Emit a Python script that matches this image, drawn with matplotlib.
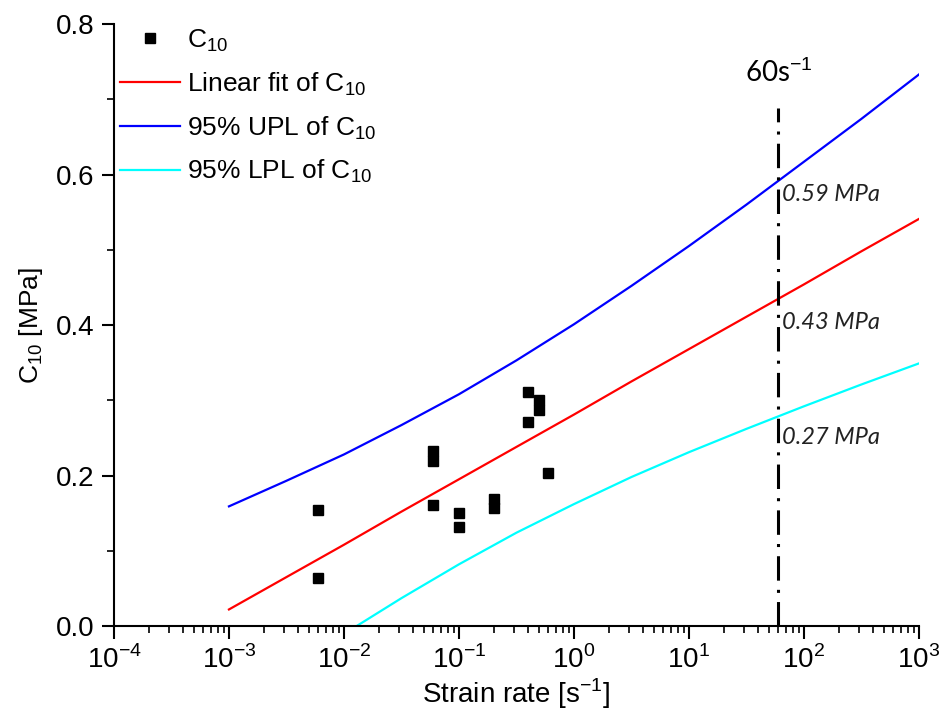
import matplotlib
matplotlib.use("Agg")
import matplotlib.pyplot as plt
from matplotlib.ticker import LogLocator, MultipleLocator, NullFormatter, FormatStrFormatter

# data points
rate = [0.006, 0.006, 0.06, 0.06, 0.06, 0.1, 0.1, 0.2, 0.2, 0.4, 0.4, 0.5, 0.5, 0.6]
c10 = [0.154, 0.064, 0.233, 0.219, 0.161, 0.150, 0.132, 0.169, 0.157, 0.311, 0.271, 0.300, 0.287, 0.203]

# curves read at half-decade steps
curve_x = [1e-3, 3.16e-3, 1e-2, 3.16e-2, 1e-1, 3.16e-1, 1e0, 3.16e0, 1e1, 3.16e1, 1e2, 3.16e2, 1e3]
fit_y = [0.022, 0.065, 0.108, 0.152, 0.195, 0.238, 0.281, 0.325, 0.368, 0.411, 0.454, 0.498, 0.541]
upl_y = [0.159, 0.193, 0.228, 0.267, 0.308, 0.353, 0.401, 0.452, 0.505, 0.560, 0.617, 0.674, 0.733]
lpl_x = [1.29e-2, 3.16e-2, 1e-1, 3.16e-1, 1e0, 3.16e0, 1e1, 3.16e1, 1e2, 3.16e2, 1e3]
lpl_y = [0.000, 0.037, 0.082, 0.124, 0.162, 0.198, 0.231, 0.262, 0.292, 0.321, 0.349]

x_ticks = [1e-4, 1e-3, 1e-2, 1e-1, 1e0, 1e1, 1e2, 1e3]
x_tick_labels = [r'10$^{-4}$', r'10$^{-3}$', r'10$^{-2}$', r'10$^{-1}$',
                 r'10$^{0}$', r'10$^{1}$', r'10$^{2}$', r'10$^{3}$']

marker_rate = 60
marker_labels = ["0.59 MPa", "0.43 MPa", "0.27 MPa"]
marker_label_y = [0.573, 0.404, 0.251]

plt.rcParams['font.family'] = ['Liberation Sans', 'DejaVu Sans']
plt.rcParams['mathtext.fontset'] = 'custom'
plt.rcParams['mathtext.rm'] = 'Liberation Sans'
plt.rcParams['mathtext.sf'] = 'Liberation Sans'
plt.rcParams['axes.unicode_minus'] = False

fig = plt.figure(figsize=(9.41, 7.17), dpi=100)
ax = fig.add_axes([0.1211, 0.1269, 0.8555, 0.8396])

ax.plot(rate, c10, 's', color='black', markersize=7.5, label=r'C$_{10}$', zorder=5)
ax.plot(curve_x, fit_y, color='#ff0000', lw=1.6, label=r'Linear fit of C$_{10}$')
ax.plot(curve_x, upl_y, color='#0000ff', lw=1.6, label=r'95% UPL of C$_{10}$')
ax.plot(lpl_x, lpl_y, color='#00ffff', lw=1.6, label=r'95% LPL of C$_{10}$')

ax.plot([marker_rate, marker_rate], [0, 0.688], color='black', lw=2.2,
        linestyle=(0, (8, 3, 1, 3)), zorder=4)

ax.set_xscale('log')
ax.set_xlim(1e-4, 1e3)
ax.set_ylim(0, 0.8)
ax.set_xticks(x_ticks)
ax.set_xticklabels(x_tick_labels)
ax.xaxis.set_minor_locator(LogLocator(base=10, subs=range(2, 10), numticks=20))
ax.xaxis.set_minor_formatter(NullFormatter())
ax.yaxis.set_major_locator(MultipleLocator(0.2))
ax.yaxis.set_minor_locator(MultipleLocator(0.1))
ax.yaxis.set_major_formatter(FormatStrFormatter('%.1f'))

for s in ['top', 'right']:
    ax.spines[s].set_visible(False)
for s in ['left', 'bottom']:
    ax.spines[s].set_linewidth(1.5)

ax.tick_params(which='major', direction='out', length=9, width=1.5, labelsize=20, pad=5)
ax.tick_params(which='minor', direction='out', length=5, width=1.2)

ax.set_xlabel(r'Strain rate [s$^{-1}$]', fontsize=20, labelpad=2)
ax.set_ylabel(r'C$_{10}$ [MPa]', fontsize=19, labelpad=8)

ax.text(marker_rate, 0.735, r'60s$^{-1}$', fontsize=20, family='Lato', ha='center', va='center')
for lab, yy in zip(marker_labels, marker_label_y):
    ax.text(marker_rate * 1.08, yy, lab, fontsize=17, family='Lato', style='italic',
            color='#222222', ha='left', va='center')

leg = ax.legend(loc='upper left', frameon=False, fontsize=19, handlelength=2.3,
                handletextpad=0.25, labelspacing=0.62, borderaxespad=0.0,
                bbox_to_anchor=(-0.006, 1.012))

fig.savefig('out.png', dpi=100)
